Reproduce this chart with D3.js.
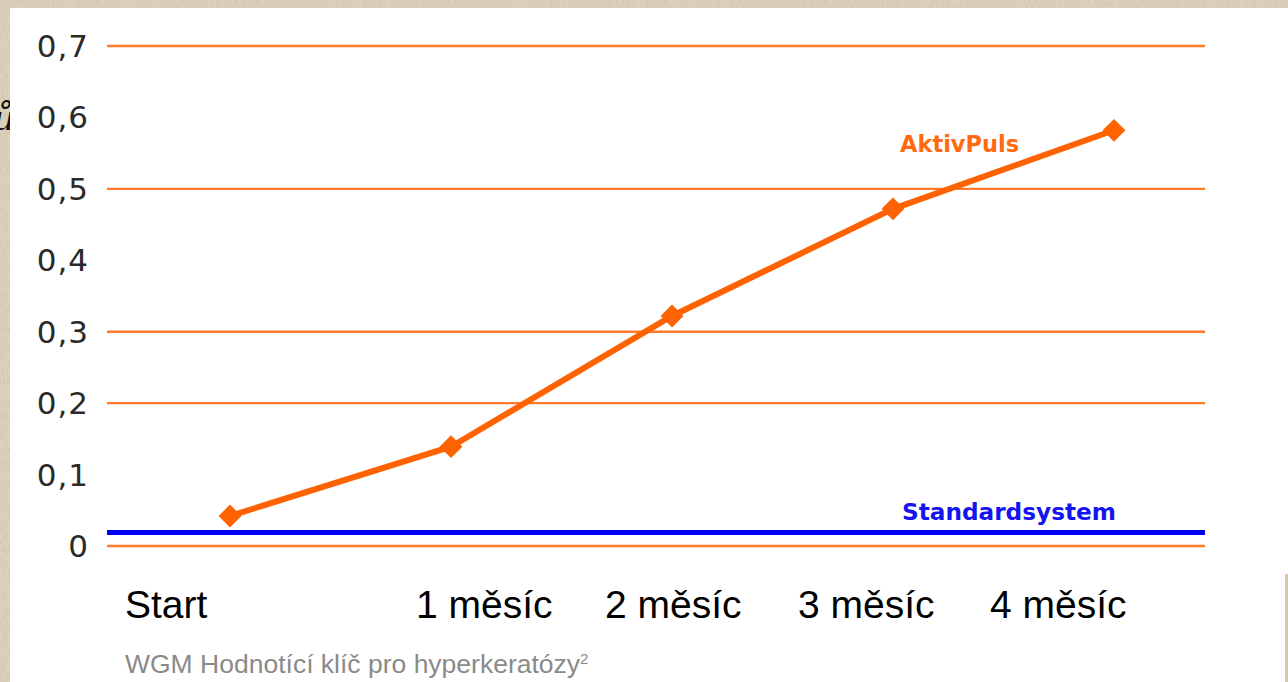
<!DOCTYPE html>
<html>
<head>
<meta charset="utf-8">
<script src="https://cdn.jsdelivr.net/npm/d3@7"></script>
<style>
  html, body { margin: 0; padding: 0; background: #d8cdb5; }
  svg { display: block; }
</style>
</head>
<body>
<div id="chart"></div>
<script>
const width = 1288;
const height = 682;

// data
const categories = ["Start", "1 měsíc", "2 měsíc", "3 měsíc", "4 měsíc"];
const aktivPuls = [0.042, 0.139, 0.322, 0.472, 0.582];
const standardLevel = 0.019;
const yTicks = [0, 0.1, 0.2, 0.3, 0.4, 0.5, 0.6, 0.7];
const gridValues = [0, 0.2, 0.3, 0.5, 0.7];
// x labels are set apart from the points in the original
const labelLeft = [125, 416, 605, 798, 990];

const svg = d3.select('#chart').append('svg')
  .attr("width", width).attr("height", height);

// parchment texture behind the panel
const defs = svg.append("defs");
const f = defs.append("filter").attr("id", "paper").attr("x", 0).attr("y", 0).attr("width", "100%").attr("height", "100%");
f.append("feTurbulence").attr("type", "fractalNoise").attr("baseFrequency", "0.9 0.15").attr("numOctaves", 2).attr("seed", 3);
f.append("feColorMatrix").attr("type", "matrix")
  .attr("values", "0 0 0 0 0.55  0 0 0 0 0.5  0 0 0 0 0.4  0 0 0 0.9 -0.25");
f.append("feComposite").attr("in2", "SourceGraphic").attr("operator", "over");

svg.append("rect").attr("width", width).attr("height", height).attr("fill", "#ddd3bd");
svg.append("rect").attr("width", width).attr("height", height).attr("fill", "#ddd3bd").attr("filter", "url(#paper)");

// stray letter from the page behind
svg.append("text")
  .attr("x", 15).attr("y", 130)
  .attr("text-anchor", "end")
  .attr("font-family", "DejaVu Serif")
  .attr("font-style", "italic")
  .attr("font-size", 34)
  .attr("fill", "#111")
  .text("ů");

// white panel
svg.append("rect").attr("x", 10).attr("y", 8).attr("width", width - 10).attr("height", height - 8).attr("fill", "#fff");
svg.append("rect").attr("x", 1285).attr("y", 574).attr("width", 3).attr("height", height - 574).attr("fill", "#d6caae");

const x = d3.scalePoint().domain(categories).range([230, 1114]);
const y = d3.scaleLinear().domain([0, 0.7]).range([546, 46]);

// grid
svg.append("g").selectAll("line").data(gridValues).join("line")
  .attr("x1", 107).attr("x2", 1205)
  .attr("y1", d => y(d)).attr("y2", d => y(d))
  .attr("stroke", "#ff7a2a").attr("stroke-width", 2.4);

// y tick labels
const fmt = d => d3.format(".1f")(d).replace(".", ",").replace(/^0,0$/, "0");
svg.append("g").selectAll("text").data(yTicks).join("text")
  .attr("x", 89).attr("y", d => y(d) + 11)
  .attr("text-anchor", "end")
  .attr("font-family", "DejaVu Sans")
  .attr("font-size", 31)
  .attr("letter-spacing", 1)
  .attr("fill", "#2a2a2a")
  .text(fmt);

// standard system line
svg.append("line")
  .attr("x1", 107).attr("x2", 1205)
  .attr("y1", y(standardLevel)).attr("y2", y(standardLevel))
  .attr("stroke", "#0000f5").attr("stroke-width", 5);

// AktivPuls series
const line = d3.line().x((d, i) => x(categories[i])).y(d => y(d));
svg.append("path").datum(aktivPuls)
  .attr("d", line)
  .attr("fill", "none")
  .attr("stroke", "#ff6200")
  .attr("stroke-width", 6);

svg.append("g").selectAll("path").data(aktivPuls).join("path")
  .attr("d", d3.symbol().type(d3.symbolSquare).size(260))
  .attr("transform", (d, i) => `translate(${x(categories[i])},${y(d)}) rotate(45)`)
  .attr("fill", "#ff6200");

// series labels
svg.append("text")
  .attr("x", 900).attr("y", 152)
  .attr("font-family", "DejaVu Sans").attr("font-weight", "bold")
  .attr("font-size", 22.5)
  .attr("fill", "#ff6a10")
  .text("AktivPuls");

svg.append("text")
  .attr("x", 902).attr("y", 520)
  .attr("font-family", "DejaVu Sans").attr("font-weight", "bold")
  .attr("font-size", 23.2)
  .attr("fill", "#1414f0")
  .text("Standardsystem");

// x labels
svg.append("g").selectAll("text").data(categories).join("text")
  .attr("x", (d, i) => labelLeft[i]).attr("y", 618)
  .attr("font-family", "Liberation Sans")
  .attr("font-size", 39)
  .attr("fill", "#000")
  .text(d => d);

// footnote
const note = svg.append("text")
  .attr("x", 125).attr("y", 673)
  .attr("font-family", "Liberation Sans")
  .attr("font-size", 26.5)
  .attr("fill", "#8a8a8a");
note.append("tspan").text("WGM Hodnotící klíč pro hyperkeratózy");
note.append("tspan").attr("font-size", 15).attr("dy", -9).text("2");
</script>
</body>
</html>
